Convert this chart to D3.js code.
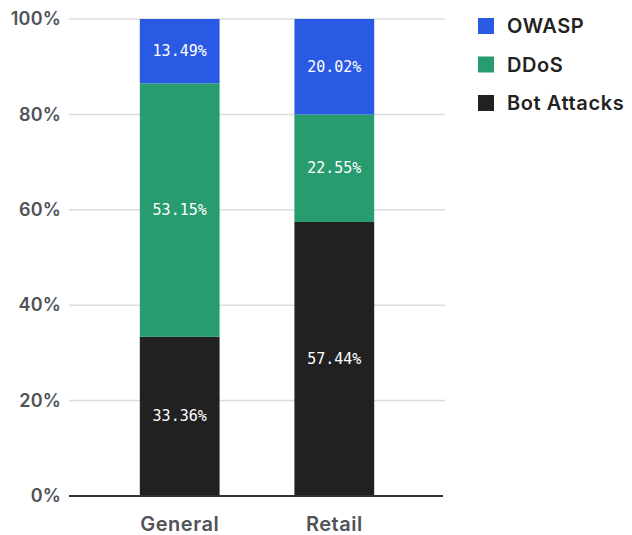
<!DOCTYPE html>
<html>
<head>
<meta charset="utf-8">
<script src="https://cdn.jsdelivr.net/npm/d3@7/dist/d3.min.js"></script>
<style>
  html, body { margin: 0; padding: 0; background: #fff; }
  svg { display: block; }
</style>
</head>
<body>
<svg id="chart" width="632" height="535"></svg>
<script>
// Share of attack types by segment (percent)
const categories = ["General", "Retail"];
const seriesNames = ["Bot Attacks", "DDoS", "OWASP"];
const botAttacks = [33.36, 57.44];
const ddos = [53.15, 22.55];
const owasp = [13.49, 20.02];
const yTicks = [0, 20, 40, 60, 80, 100];
const colors = { "OWASP": "#2a5ae4", "DDoS": "#289b6f", "Bot Attacks": "#212121" };

const rows = categories.map((c, i) => ({
  category: c,
  "Bot Attacks": botAttacks[i],
  "DDoS": ddos[i],
  "OWASP": owasp[i]
}));

const svg = d3.select("#chart");
const plotLeft = 69, plotRight = 445, plotTop = 19, plotBottom = 496;

const x = d3.scaleBand().domain(categories).range([plotLeft, plotRight])
  .paddingInner(0.484).paddingOuter(0.458);
const y = d3.scaleLinear().domain([0, 100]).range([plotBottom, plotTop]);

// gridlines
svg.append("g").selectAll("line").data(yTicks.filter(t => t > 0)).join("line")
  .attr("x1", plotLeft).attr("x2", plotRight)
  .attr("y1", d => y(d)).attr("y2", d => y(d))
  .attr("stroke", "#dcdcdc").attr("stroke-width", 1.5);

// y axis labels
const yAxis = d3.axisLeft(y).tickValues(yTicks).tickFormat(d => d + "%").tickSize(0).tickPadding(8);
const gy = svg.append("g").attr("transform", `translate(${plotLeft},0)`).call(yAxis);
gy.select(".domain").remove();
gy.selectAll("text")
  .attr("font-family", "Inter, sans-serif").attr("font-size", 18).attr("font-weight", 600)
  .attr("letter-spacing", "0.2px")
  .attr("fill", "#505357");

// stacked bars
const stack = d3.stack().keys(seriesNames)(rows);
const layers = svg.append("g").selectAll("g").data(stack).join("g")
  .attr("fill", d => colors[d.key]);
layers.selectAll("rect").data(d => d).join("rect")
  .attr("x", d => x(d.data.category))
  .attr("width", x.bandwidth())
  .attr("y", d => y(d[1]))
  .attr("height", d => y(d[0]) - y(d[1]));

// value labels
layers.selectAll("text").data(d => d.map(v => ({ v, key: d.key }))).join("text")
  .attr("x", d => x(d.v.data.category) + x.bandwidth() / 2)
  .attr("y", d => (y(d.v[0]) + y(d.v[1])) / 2)
  .attr("text-anchor", "middle").attr("dominant-baseline", "central")
  .attr("font-family", "'DejaVu Sans Mono', monospace").attr("font-size", 15)
  .attr("fill", "#fff")
  .text(d => d.v.data[d.key].toFixed(2) + "%");

// baseline
svg.append("line").attr("x1", plotLeft).attr("x2", plotRight - 2)
  .attr("y1", y(0)).attr("y2", y(0))
  .attr("stroke", "#333").attr("stroke-width", 2);

// x axis labels
const xAxis = d3.axisBottom(x).tickSize(0).tickPadding(21);
const gx = svg.append("g").attr("transform", `translate(0,${plotBottom})`).call(xAxis);
gx.select(".domain").remove();
gx.selectAll("text")
  .attr("font-family", "Inter, sans-serif").attr("font-size", 20).attr("font-weight", 600)
  .attr("letter-spacing", "0.5px")
  .attr("fill", "#505357");

// legend
const legendItems = ["OWASP", "DDoS", "Bot Attacks"];
const lg = svg.append("g").selectAll("g").data(legendItems).join("g")
  .attr("transform", (d, i) => `translate(478,${26 + i * 38.5})`);
lg.append("rect").attr("x", 0).attr("y", -8).attr("width", 16).attr("height", 16)
  .attr("fill", d => colors[d]);
lg.append("text").attr("x", 29).attr("y", 0).attr("dominant-baseline", "central")
  .attr("font-family", "Inter, sans-serif").attr("font-size", 20).attr("font-weight", 600)
  .attr("letter-spacing", "0.6px")
  .attr("fill", "#222").text(d => d);
</script>
</body>
</html>
